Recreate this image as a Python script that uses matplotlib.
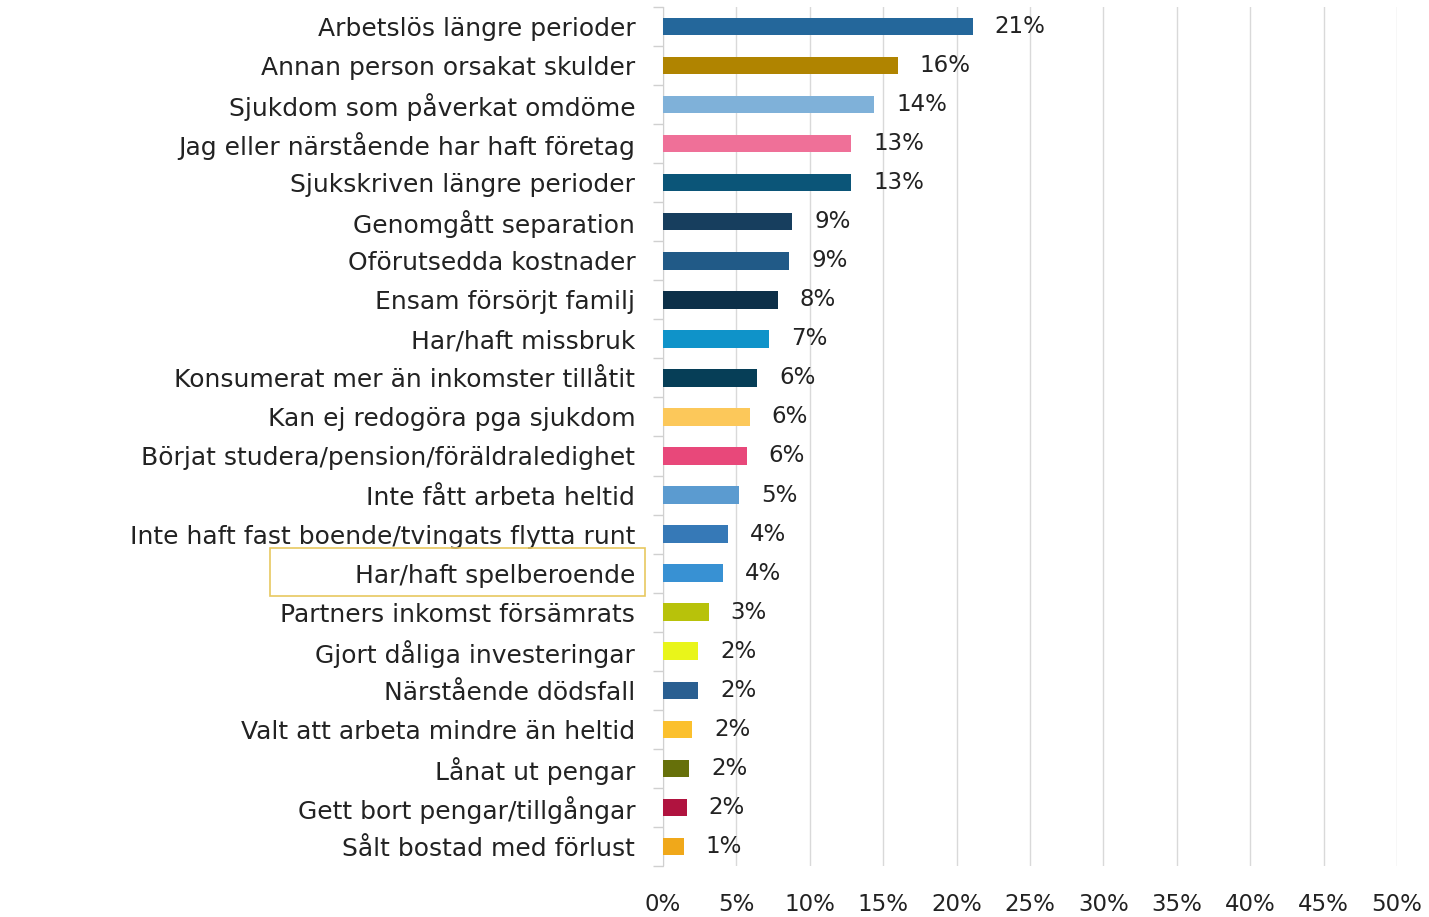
import numpy as np
import matplotlib.pyplot as plt
from matplotlib.patches import Rectangle

# Orsaker (uppifrån och ned) och andelar
orsaker = [
    'Arbetslös längre perioder',
    'Annan person orsakat skulder',
    'Sjukdom som påverkat omdöme',
    'Jag eller närstående har haft företag',
    'Sjukskriven längre perioder',
    'Genomgått separation',
    'Oförutsedda kostnader',
    'Ensam försörjt familj',
    'Har/haft missbruk',
    'Konsumerat mer än inkomster tillåtit',
    'Kan ej redogöra pga sjukdom',
    'Börjat studera/pension/föräldraledighet',
    'Inte fått arbeta heltid',
    'Inte haft fast boende/tvingats flytta runt',
    'Har/haft spelberoende',
    'Partners inkomst försämrats',
    'Gjort dåliga investeringar',
    'Närstående dödsfall',
    'Valt att arbeta mindre än heltid',
    'Lånat ut pengar',
    'Gett bort pengar/tillgångar',
    'Sålt bostad med förlust',
]
andelar = [21.1, 16.0, 14.4, 12.8, 12.8, 8.8, 8.6, 7.8, 7.2, 6.4, 5.9, 5.7,
           5.2, 4.4, 4.1, 3.1, 2.4, 2.4, 2.0, 1.8, 1.6, 1.4]
farger = ['#24679b', '#b08400', '#7fb1d9', '#ef7098', '#0b5578', '#173e5e',
          '#215a87', '#0c2f48', '#0f93c9', '#063e57', '#fcc85a', '#e8487a',
          '#5b9bd0', '#3679b7', '#3891d3', '#b8c20a', '#e9f51a', '#2a5f91',
          '#fbc02d', '#66700a', '#b0133f', '#f0a81a']
xticks = np.arange(0, 51, 5)

plt.rcParams['font.family'] = ['DejaVu Sans']

fig = plt.figure(figsize=(14.29, 9.17), dpi=100)
ax = fig.add_axes([0.464, 0.056, 0.5136, 0.936])

y = np.arange(len(orsaker))
ax.barh(y, andelar, height=0.44, color=farger, zorder=3)

for yi, v in zip(y, andelar):
    ax.text(v + 1.5, yi, f'{round(v):d}%', va='center', ha='left',
            fontsize=16.5, color='#222222')

ax.set_ylim(len(orsaker) - 0.5, -0.5)
ax.set_xlim(0, 50)
ax.set_yticks(y)
ax.set_yticklabels(orsaker, fontsize=18, color='#222222')
ax.tick_params(axis='y', length=0, pad=20)
ax.set_yticks(np.arange(len(orsaker) + 1) - 0.5, minor=True)
ax.tick_params(axis='y', which='minor', length=7, color='#d0d0d0', width=1)

ax.set_xticks(xticks)
ax.set_xticklabels([f'{t}%' for t in xticks], fontsize=16.5, color='#222222')
ax.tick_params(axis='x', length=0, pad=20)
ax.grid(axis='x', color='#d9d9d9', lw=1, zorder=0)

for s in ['top', 'right', 'bottom']:
    ax.spines[s].set_visible(False)
ax.spines['left'].set_color('#d0d0d0')

# ram runt "Har/haft spelberoende"
fig.patches.append(Rectangle((270 / 1429, 1 - 596 / 917), 375 / 1429, 48 / 917,
                             transform=fig.transFigure, fill=False,
                             edgecolor='#e8c860', lw=1.2))

fig.savefig('out.png', dpi=100)
